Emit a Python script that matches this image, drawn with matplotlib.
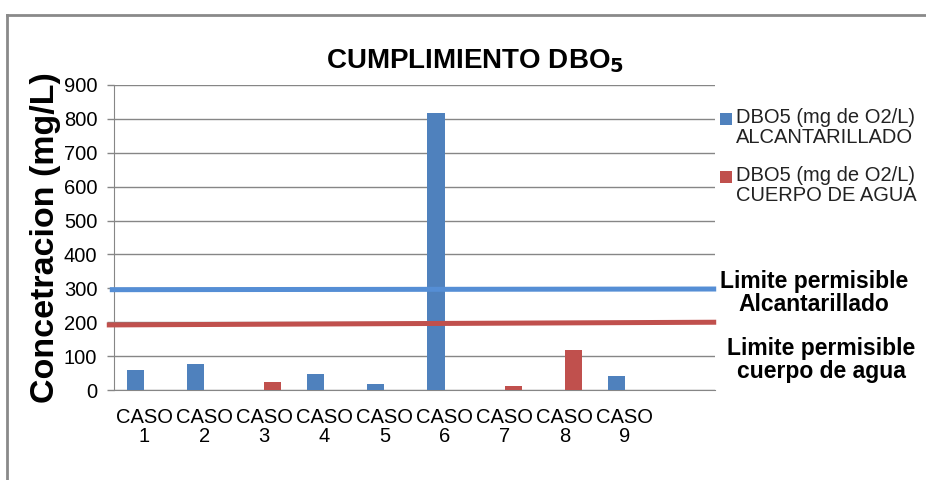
import numpy as np
import matplotlib
matplotlib.use("Agg")
import matplotlib.pyplot as plt
from matplotlib.lines import Line2D
from matplotlib.patches import Rectangle

plt.rcParams['font.family'] = ['Liberation Sans', 'DejaVu Sans']

categories = ["CASO\n1", "CASO\n2", "CASO\n3", "CASO\n4", "CASO\n5",
              "CASO\n6", "CASO\n7", "CASO\n8", "CASO\n9", ""]
alcantarillado = [60, 78, np.nan, 48, 18, 818, np.nan, np.nan, 40, np.nan]
cuerpo_agua = [np.nan, np.nan, 25, np.nan, np.nan, np.nan, 12, 118, np.nan, np.nan]
limite_alcantarillado = [296, 298]   # drawn limit line (left, right)
limite_cuerpo_agua = [192, 200]      # drawn limit line (left, right)
yticks = [0, 100, 200, 300, 400, 500, 600, 700, 800, 900]

series_labels = ["DBO5 (mg de O2/L)\nALCANTARILLADO", "DBO5 (mg de O2/L)\nCUERPO DE AGUA"]
series_colors = ['#4F81BD', '#C0504D']

fig = plt.figure(figsize=(9.26, 4.8), dpi=100)
ax = fig.add_axes([114/926, 1-390/480, (715-114)/926, 305/480])

x = np.arange(len(categories))
w = 0.285
ax.bar(x - w/2, alcantarillado, w, color=series_colors[0], zorder=3)
ax.bar(x + w/2, cuerpo_agua, w, color=series_colors[1], zorder=3)

ax.set_xlim(-0.5, len(categories) - 0.5)
ax.set_ylim(0, 900)
ax.set_yticks(yticks)
ax.set_yticklabels([str(v) for v in yticks], fontsize=14.5)
ax.set_xticks(x)
ax.set_xticklabels(categories, fontsize=14.5, linespacing=1.0)
ax.tick_params(axis='x', length=0, pad=13)
ax.tick_params(axis='y', length=5, width=1, color='#868686', direction='out', pad=7)
ax.grid(axis='y', color='#868686', linewidth=1, zorder=0)
for s in ['top', 'right']:
    ax.spines[s].set_visible(False)
ax.spines['left'].set_color('#868686')
ax.spines['bottom'].set_color('#868686')

# limit lines
ax.plot([-0.57, len(categories) - 0.48], limite_alcantarillado, color='#558ED5',
        linewidth=3.6, zorder=4, clip_on=False, solid_capstyle='butt')
ax.plot([-0.62, len(categories) - 0.48], limite_cuerpo_agua, color='#C0504D',
        linewidth=3.6, zorder=4, clip_on=False, solid_capstyle='butt')

ax.set_ylabel("Concetracion (mg/L)", fontsize=24.5, fontweight='bold', labelpad=2)

fig.text(475/926, 1-61/480, r"CUMPLIMIENTO DBO$_\mathbf{5}$", ha='center', va='center',
         fontsize=20, fontweight='bold')

# legend (marker aligned with first line of each entry)
for i, (lab, col) in enumerate(zip(series_labels, series_colors)):
    ytop = 108 + i * 58
    fig.add_artist(Rectangle((720/926, 1-(ytop+17)/480), 12/926, 12/480,
                             facecolor=col, edgecolor='none', transform=fig.transFigure))
    fig.text(736/926, 1-ytop/480, lab, ha='left', va='top', fontsize=14.5,
             color='#222222', linespacing=1.05)

fig.text(814/926, 1-293/480, "Limite permisible\nAlcantarillado", ha='center', va='center',
         fontsize=16.5, fontweight='bold', linespacing=1.05)
fig.text(821/926, 1-360/480, "Limite permisible\ncuerpo de agua", ha='center', va='center',
         fontsize=16.5, fontweight='bold', linespacing=1.05)

# outer frame (top and left)
fig.add_artist(Line2D([7/926, 1], [1-15/480, 1-15/480], color='#8a8a8a', linewidth=2))
fig.add_artist(Line2D([7/926, 7/926], [0, 1-15/480], color='#8a8a8a', linewidth=2))

fig.savefig("out.png", dpi=100)
